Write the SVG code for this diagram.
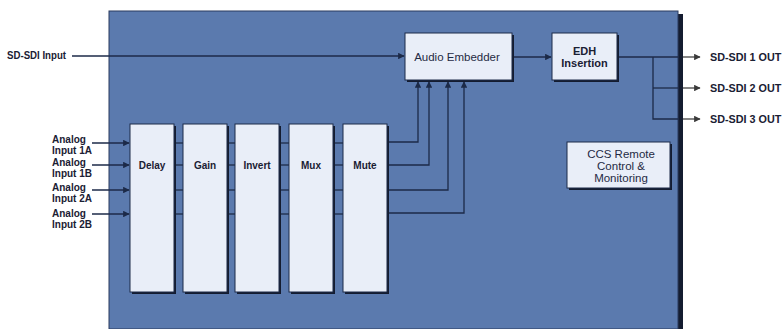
<svg xmlns="http://www.w3.org/2000/svg" width="783" height="329" viewBox="0 0 783 329">
<style>
.t{font-family:"Liberation Sans",Arial,sans-serif;font-weight:bold;font-size:10px;fill:#1a2033}
.o{font-family:"Liberation Sans",Arial,sans-serif;font-weight:bold;font-size:10.8px;fill:#1a2033}
.e{font-family:"Liberation Sans",Arial,sans-serif;font-weight:bold;font-size:11px;fill:#1a2033}
.bt{font-family:"Liberation Sans",Arial,sans-serif;font-size:11.5px;fill:#1f2a44}
.box{fill:#e9eef8;stroke:#1c2a48;stroke-width:1}
.sh{fill:#141c30}
.ln{fill:none;stroke:#1c2a48;stroke-width:1.3}
.ol{fill:none;stroke:#444;stroke-width:1.3}
</style>
<defs>
<marker id="a" viewBox="0 0 10 10" refX="9" refY="5" markerWidth="5" markerHeight="5" orient="auto"><path d="M0,0L10,5L0,10z" fill="#1c2a48"/></marker>
<marker id="g" viewBox="0 0 10 10" refX="9" refY="5" markerWidth="5" markerHeight="5" orient="auto"><path d="M0,0L10,5L0,10z" fill="#3a3a3a"/></marker>
</defs>
<rect width="783" height="329" fill="#ffffff"/>
<g id="frame">
<rect x="112" y="14" width="571" height="315" fill="#141c30"/>
<rect x="109" y="11" width="569" height="318" fill="#5b7aae" stroke="#2a3a5e" stroke-width="1"/>
</g>
<g id="connectors">
<line class="ln" x1="72" y1="56" x2="404" y2="56" marker-end="url(#a)"/>
<line class="ln" x1="513" y1="57" x2="551" y2="57" marker-end="url(#a)"/>
<polyline class="ln" points="618,57 678,57"/>
<polyline class="ln" points="653,57 653,119 678,119"/>
<line class="ln" x1="653" y1="88" x2="678" y2="88"/>
<line class="ol" x1="683" y1="57" x2="700" y2="57" marker-end="url(#g)"/>
<line class="ol" x1="683" y1="88" x2="700" y2="88" marker-end="url(#g)"/>
<line class="ol" x1="683" y1="119" x2="700" y2="119" marker-end="url(#g)"/>
<line class="ln" x1="92" y1="143" x2="129" y2="143" marker-end="url(#a)"/>
<line class="ln" x1="92" y1="165" x2="129" y2="165" marker-end="url(#a)"/>
<line class="ln" x1="92" y1="190" x2="129" y2="190" marker-end="url(#a)"/>
<line class="ln" x1="92" y1="214" x2="129" y2="214" marker-end="url(#a)"/>
<g>
<line class="ln" x1="176" y1="143" x2="183" y2="143"/><line class="ln" x1="176" y1="165" x2="183" y2="165"/><line class="ln" x1="176" y1="190" x2="183" y2="190"/><line class="ln" x1="176" y1="214" x2="183" y2="214"/>
<line class="ln" x1="229" y1="143" x2="235" y2="143"/><line class="ln" x1="229" y1="165" x2="235" y2="165"/><line class="ln" x1="229" y1="190" x2="235" y2="190"/><line class="ln" x1="229" y1="214" x2="235" y2="214"/>
<line class="ln" x1="281" y1="143" x2="289" y2="143"/><line class="ln" x1="281" y1="165" x2="289" y2="165"/><line class="ln" x1="281" y1="190" x2="289" y2="190"/><line class="ln" x1="281" y1="214" x2="289" y2="214"/>
<line class="ln" x1="335" y1="143" x2="343" y2="143"/><line class="ln" x1="335" y1="165" x2="343" y2="165"/><line class="ln" x1="335" y1="190" x2="343" y2="190"/><line class="ln" x1="335" y1="214" x2="343" y2="214"/>
</g>
<polyline class="ln" points="389,142 418,142 418,82" marker-end="url(#a)"/>
<polyline class="ln" points="389,165 429,165 429,82" marker-end="url(#a)"/>
<polyline class="ln" points="389,190 448,190 448,82" marker-end="url(#a)"/>
<polyline class="ln" points="389,213 464,213 464,82" marker-end="url(#a)"/>
</g>
<g id="audio-embedder">
<rect class="sh" x="407" y="35" width="107" height="47"/>
<rect class="box" x="405" y="33" width="107" height="47"/>
<text class="bt" x="457" y="61" text-anchor="middle">Audio Embedder</text>
</g>
<g id="edh">
<rect class="sh" x="554" y="35" width="65" height="47"/>
<rect class="box" x="552" y="33" width="65" height="47"/>
<text class="e" x="584.5" y="55" text-anchor="middle">EDH</text>
<text class="e" x="584.5" y="67" text-anchor="middle">Insertion</text>
</g>
<g id="ccs">
<rect class="sh" x="569" y="144" width="103" height="46"/>
<rect class="box" x="567" y="142" width="103" height="46"/>
<text class="bt" x="621" y="158" text-anchor="middle">CCS Remote</text>
<text class="bt" x="621" y="170" text-anchor="middle">Control &amp;</text>
<text class="bt" x="621" y="182" text-anchor="middle">Monitoring</text>
</g>
<g id="delay">
<rect class="sh" x="132" y="126" width="44" height="168"/>
<rect class="box" x="130" y="124" width="44" height="168"/>
<text class="t" x="152" y="169" text-anchor="middle">Delay</text>
</g>
<g id="gain">
<rect class="sh" x="185" y="126" width="44" height="168"/>
<rect class="box" x="183" y="124" width="44" height="168"/>
<text class="t" x="205" y="169" text-anchor="middle">Gain</text>
</g>
<g id="invert">
<rect class="sh" x="237" y="126" width="44" height="168"/>
<rect class="box" x="235" y="124" width="44" height="168"/>
<text class="t" x="257" y="169" text-anchor="middle">Invert</text>
</g>
<g id="mux">
<rect class="sh" x="291" y="126" width="44" height="168"/>
<rect class="box" x="289" y="124" width="44" height="168"/>
<text class="t" x="311" y="169" text-anchor="middle">Mux</text>
</g>
<g id="mute">
<rect class="sh" x="345" y="126" width="44" height="168"/>
<rect class="box" x="343" y="124" width="44" height="168"/>
<text class="t" x="365" y="169" text-anchor="middle">Mute</text>
</g>
<g id="labels">
<text class="t" x="7" y="59" textLength="59" lengthAdjust="spacingAndGlyphs">SD-SDI Input</text>
<text class="o" x="710" y="61">SD-SDI 1 OUT</text>
<text class="o" x="710" y="92">SD-SDI 2 OUT</text>
<text class="o" x="710" y="123">SD-SDI 3 OUT</text>
<text class="t" x="52" y="143">Analog</text>
<text class="t" x="52" y="154">Input 1A</text>
<text class="t" x="52" y="166">Analog</text>
<text class="t" x="52" y="177">Input 1B</text>
<text class="t" x="52" y="191">Analog</text>
<text class="t" x="52" y="202">Input 2A</text>
<text class="t" x="52" y="217">Analog</text>
<text class="t" x="52" y="228">Input 2B</text>
</g>
</svg>
